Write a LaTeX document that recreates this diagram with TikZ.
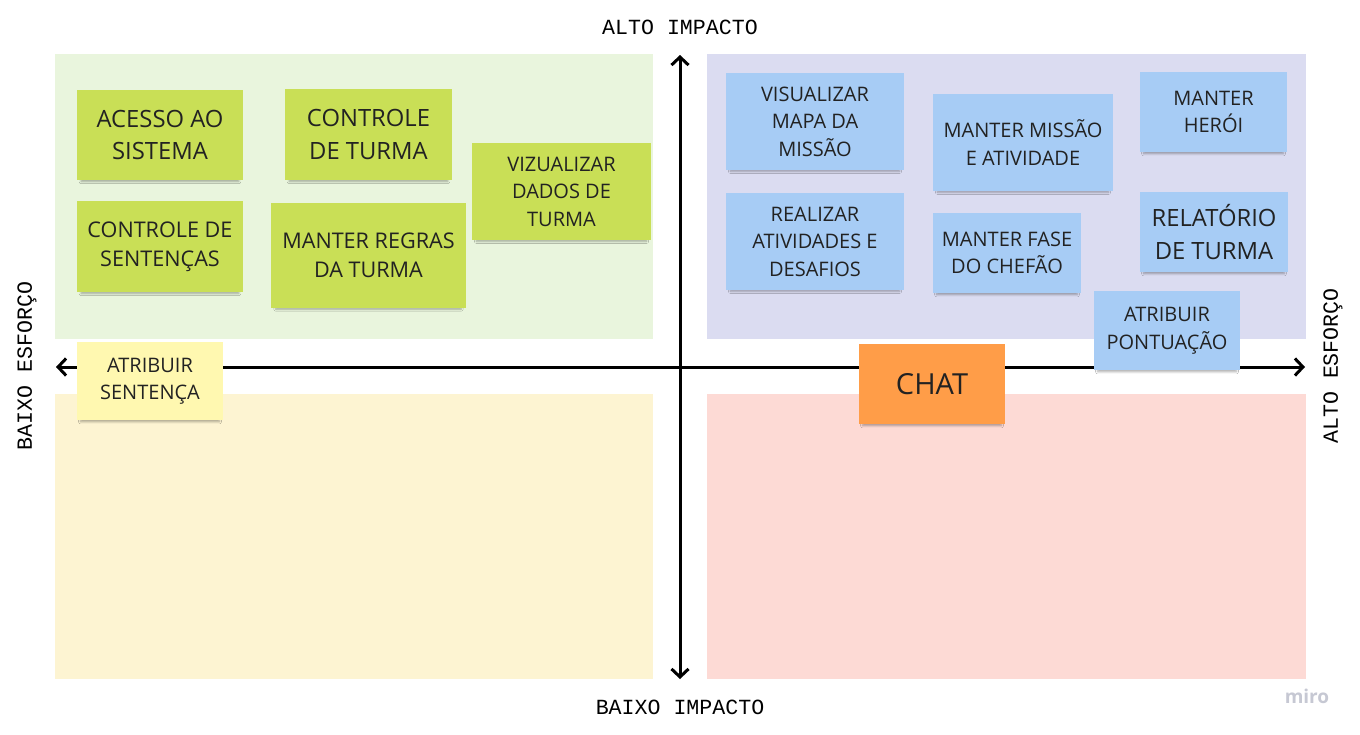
\documentclass[tikz,border=0pt]{standalone}
\usepackage{fontspec}
\setmainfont{Open Sans}
\newfontfamily\axisfont{Liberation Mono}
\usetikzlibrary{arrows.meta,shadows.blur}

\definecolor{greenbg}{HTML}{E9F5DD}
\definecolor{bluebg}{HTML}{DBDCF1}
\definecolor{yellowbg}{HTML}{FDF4D2}
\definecolor{pinkbg}{HTML}{FDDAD5}
\definecolor{greennote}{HTML}{C9DF56}
\definecolor{bluenote}{HTML}{A7CCF5}
\definecolor{yellownote}{HTML}{FFF8B0}
\definecolor{orangenote}{HTML}{FF9D48}
\definecolor{notetext}{HTML}{222222}
\definecolor{mirogray}{HTML}{C6C8D3}

\begin{document}
\begin{tikzpicture}[x=1pt, y=-1pt,
  note/.style={inner sep=2pt, align=center, text=notetext, font=\fontsize{20}{27.5}\selectfont,
    blur shadow={shadow xshift=0pt, shadow yshift=-4pt, shadow scale=0.95, shadow opacity=32, shadow blur steps=6}},
  bignote/.style={note, font=\fontsize{23.8}{32.5}\selectfont},
  midnote/.style={note, font=\fontsize{21.6}{29}\selectfont},
  axislabel/.style={font=\axisfont\fontsize{21.6}{24}\selectfont, text=black},
  axis/.style={line width=3pt, black, {Straight Barb[length=8pt,width=17pt,line width=3pt]}-{Straight Barb[length=8pt,width=17pt,line width=3pt]}}
]

\useasboundingbox[fill=white] (0,0) rectangle (1360,734);

% quadrants
\fill[greenbg]  (55,54)  rectangle (653,339);
\fill[bluebg]   (707,54) rectangle (1306,339);
\fill[yellowbg] (55,394) rectangle (653,679);
\fill[pinkbg]   (707,394) rectangle (1306,679);

% axes
\coordinate (top) at (680,55);
\coordinate (bottom) at (680,679);
\coordinate (left) at (56,367);
\coordinate (right) at (1305,367);
\draw[axis] (bottom) -- (top);
\draw[axis] (left) -- (right);

\node[axislabel] (altoimp) at (680,27) {ALTO IMPACTO};
\node[axislabel] (baixoimp) at (680,707) {BAIXO IMPACTO};
\node[axislabel, rotate=90] (baixoesf) at (27,366) {BAIXO ESFORÇO};
\node[axislabel, rotate=90] (altoesf) at (1333,366) {ALTO ESFORÇO};

% green notes
\node[bignote, fill=greennote, minimum width=166pt, minimum height=90pt] (acesso) at (160,135) {ACESSO AO\\SISTEMA};
\node[bignote, fill=greennote, minimum width=167pt, minimum height=91pt] (ctrlturma) at (368.5,134.5) {CONTROLE\\DE TURMA};
\node[note, fill=greennote, minimum width=179pt, minimum height=97pt] (vizdados) at (561.5,191.5) {VIZUALIZAR\\DADOS DE\\TURMA};
\node[midnote, fill=greennote, minimum width=166pt, minimum height=91pt] (ctrlsent) at (160,246.5) {CONTROLE DE\\SENTENÇAS};
\node[midnote, fill=greennote, minimum width=195pt, minimum height=105pt] (regras) at (368.5,255.5) {MANTER REGRAS\\DA TURMA};

% yellow note
\node[note, fill=yellownote, minimum width=146pt, minimum height=78pt] (atribsent) at (150,381) {ATRIBUIR\\SENTENÇA};

% blue notes
\node[note, fill=bluenote, minimum width=178pt, minimum height=97pt] (mapa) at (815,121.5) {VISUALIZAR\\MAPA DA\\MISSÃO};
\node[note, fill=bluenote, minimum width=180pt, minimum height=97pt] (missao) at (1023,142.5) {MANTER MISSÃO\\E ATIVIDADE};
\node[note, fill=bluenote, minimum width=147pt, minimum height=80pt] (heroi) at (1213.5,112) {MANTER\\HERÓI};
\node[note, fill=bluenote, minimum width=178pt, minimum height=97pt] (realizar) at (815,241.5) {REALIZAR\\ATIVIDADES E\\DESAFIOS};
\node[note, fill=bluenote, minimum width=148pt, minimum height=80pt] (chefao) at (1007,253) {MANTER FASE\\DO CHEFÃO};
\node[bignote, fill=bluenote, minimum width=148pt, minimum height=80pt] (relatorio) at (1214,232) {RELATÓRIO\\DE TURMA};
\node[note, fill=bluenote, minimum width=146pt, minimum height=79pt] (pontuacao) at (1167,330.5) {ATRIBUIR\\PONTUAÇÃO};

% orange note
\node[note, fill=orangenote, minimum width=146pt, minimum height=80pt, font=\fontsize{29}{32}\selectfont] (chat) at (932,384) {CHAT};

\node[text=mirogray, font=\bfseries\fontsize{19}{22}\selectfont] (miro) at (1307,696) {miro};

\end{tikzpicture}
\end{document}
